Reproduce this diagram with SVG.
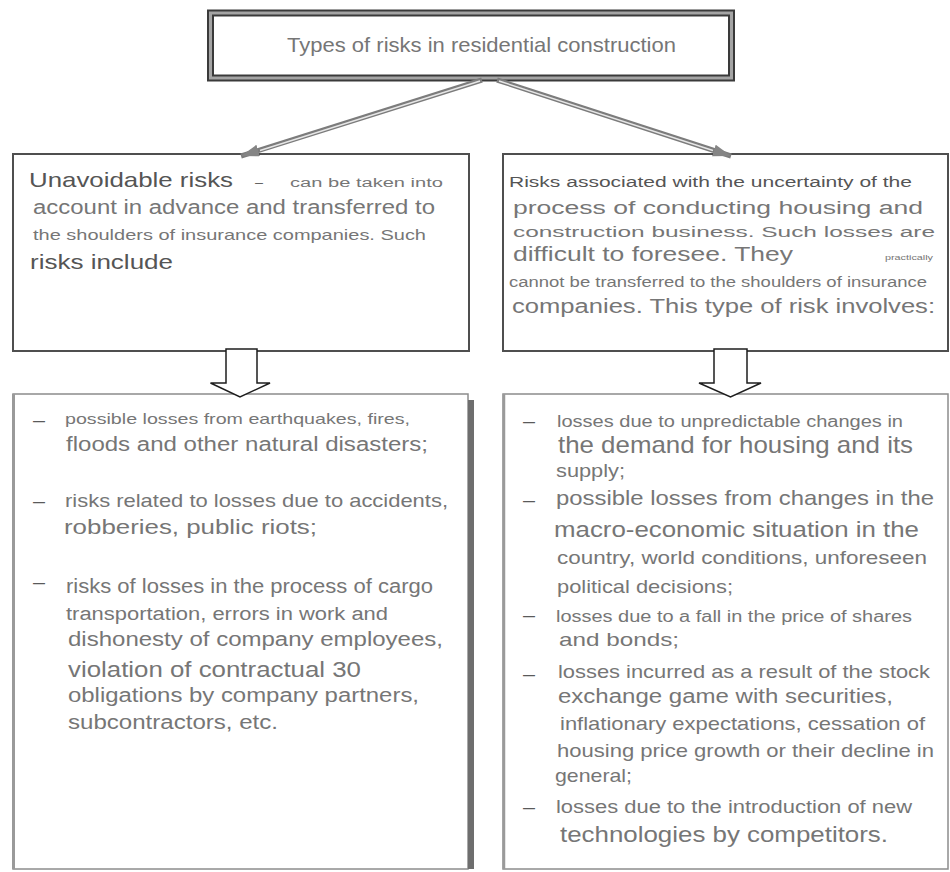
<svg xmlns="http://www.w3.org/2000/svg" width="950" height="872" viewBox="0 0 950 872">
  <style>
    text { font-family: "Liberation Sans", Arial, sans-serif; fill: #767676; }
    .dk { fill: #555555; }
    .dash { fill: #5a5a5a; }
    .box { fill: #ffffff; stroke: #4f4f4f; stroke-width: 2; }
    .lbox { fill: #ffffff; stroke: #8c8c8c; stroke-width: 1.5; }
    .link-outer { fill: none; stroke: #7c7c7c; stroke-width: 5; }
    .link-inner { fill: none; stroke: #e6e6e6; stroke-width: 1.5; }
    .block { fill: #ffffff; stroke: #1e1e1e; stroke-width: 1.5; stroke-linejoin: miter; }
  </style>
  <defs>
    <marker id="head" markerUnits="userSpaceOnUse" markerWidth="20" markerHeight="14" refX="18" refY="6" orient="auto">
      <path d="M0,0 L18,6 L0,12 Z" fill="#858585"/>
    </marker>
  </defs>

  <rect width="950" height="872" fill="#ffffff"/>

  <!-- title node with double frame -->
  <g id="title">
    <rect x="210.5" y="13" width="521" height="65" fill="#ffffff" stroke="#3a3a3a" stroke-width="7"/>
    <rect x="210.5" y="13" width="521" height="65" fill="none" stroke="#a4a4a4" stroke-width="3"/>
    <text x="287" y="52" font-size="21" textLength="389" lengthAdjust="spacingAndGlyphs">Types of risks in residential construction</text>
  </g>

  <!-- left category -->
  <g id="unavoidable">
    <rect class="box" x="13" y="154" width="456" height="197"/>
    <text class="dk" x="29" y="187" font-size="21" textLength="204" lengthAdjust="spacingAndGlyphs">Unavoidable risks</text>
    <text class="dash" x="255" y="187" font-size="12" textLength="8" lengthAdjust="spacingAndGlyphs">–</text>
    <text x="290" y="187" font-size="12" textLength="153" lengthAdjust="spacingAndGlyphs">can be taken into</text>
    <text x="33" y="214" font-size="19.5" textLength="402" lengthAdjust="spacingAndGlyphs">account in advance and transferred to</text>
    <text x="33" y="240" font-size="15" textLength="393" lengthAdjust="spacingAndGlyphs">the shoulders of insurance companies. Such</text>
    <text class="dk" x="30" y="269" font-size="20" textLength="143" lengthAdjust="spacingAndGlyphs">risks include</text>
  </g>

  <!-- right category -->
  <g id="uncertainty">
    <rect class="box" x="503" y="154" width="445" height="197"/>
    <text class="dk" x="509" y="187" font-size="14" textLength="403" lengthAdjust="spacingAndGlyphs">Risks associated with the uncertainty of the</text>
    <text x="513" y="214" font-size="18" textLength="410" lengthAdjust="spacingAndGlyphs">process of conducting housing and</text>
    <text x="513" y="237" font-size="15.5" textLength="422" lengthAdjust="spacingAndGlyphs">construction business. Such losses are</text>
    <text x="513" y="261" font-size="20.5" textLength="280" lengthAdjust="spacingAndGlyphs">difficult to foresee. They</text>
    <text x="885" y="260" font-size="8" textLength="48" lengthAdjust="spacingAndGlyphs">practically</text>
    <text x="509" y="287" font-size="14" textLength="418" lengthAdjust="spacingAndGlyphs">cannot be transferred to the shoulders of insurance</text>
    <text x="512" y="313" font-size="19.5" textLength="423" lengthAdjust="spacingAndGlyphs">companies. This type of risk involves:</text>
  </g>

  <!-- list of unavoidable risks -->
  <g id="unavoidable-list">
    <rect class="lbox" x="13" y="394" width="455" height="475"/>
    <line x1="13.5" y1="394" x2="13.5" y2="869" stroke="#9a9a9a" stroke-width="3"/>
    <rect x="468" y="400" width="6" height="469" fill="#6e6e6e"/>
    <text class="dash" x="33" y="426" font-size="16" textLength="12" lengthAdjust="spacingAndGlyphs">–</text>
    <text x="65" y="424" font-size="15" textLength="345" lengthAdjust="spacingAndGlyphs">possible losses from earthquakes, fires,</text>
    <text x="66" y="451" font-size="20" textLength="362" lengthAdjust="spacingAndGlyphs">floods and other natural disasters;</text>
    <text class="dash" x="33" y="507" font-size="16" textLength="12" lengthAdjust="spacingAndGlyphs">–</text>
    <text x="65" y="507" font-size="18.5" textLength="383" lengthAdjust="spacingAndGlyphs">risks related to losses due to accidents,</text>
    <text x="64" y="534" font-size="20.5" textLength="253" lengthAdjust="spacingAndGlyphs">robberies, public riots;</text>
    <text class="dash" x="33" y="588" font-size="16" textLength="12" lengthAdjust="spacingAndGlyphs">–</text>
    <text x="66" y="593" font-size="19.5" textLength="367" lengthAdjust="spacingAndGlyphs">risks of losses in the process of cargo</text>
    <text x="66" y="620" font-size="18" textLength="322" lengthAdjust="spacingAndGlyphs">transportation, errors in work and</text>
    <text x="68" y="646" font-size="20" textLength="375" lengthAdjust="spacingAndGlyphs">dishonesty of company employees,</text>
    <text x="68" y="677" font-size="22" textLength="293" lengthAdjust="spacingAndGlyphs">violation of contractual 30</text>
    <text x="68" y="702" font-size="19.5" textLength="351" lengthAdjust="spacingAndGlyphs">obligations by company partners,</text>
    <text x="68" y="729" font-size="20" textLength="210" lengthAdjust="spacingAndGlyphs">subcontractors, etc.</text>
  </g>

  <!-- list of uncertainty risks -->
  <g id="uncertainty-list">
    <rect class="lbox" x="503" y="394" width="445" height="475"/>
    <line x1="504" y1="394" x2="504" y2="869" stroke="#9a9a9a" stroke-width="2.5"/>
    <text class="dash" x="523" y="427" font-size="16" textLength="12" lengthAdjust="spacingAndGlyphs">–</text>
    <text x="557" y="427" font-size="16" textLength="346" lengthAdjust="spacingAndGlyphs">losses due to unpredictable changes in</text>
    <text x="558" y="453" font-size="24" textLength="355" lengthAdjust="spacingAndGlyphs">the demand for housing and its</text>
    <text x="556" y="477" font-size="18.5" textLength="69" lengthAdjust="spacingAndGlyphs">supply;</text>
    <text class="dash" x="523" y="506" font-size="16" textLength="12" lengthAdjust="spacingAndGlyphs">–</text>
    <text x="556" y="505" font-size="21" textLength="378" lengthAdjust="spacingAndGlyphs">possible losses from changes in the</text>
    <text x="554" y="537" font-size="22.5" textLength="365" lengthAdjust="spacingAndGlyphs">macro-economic situation in the</text>
    <text x="557" y="564" font-size="17.7" textLength="370" lengthAdjust="spacingAndGlyphs">country, world conditions, unforeseen</text>
    <text x="557" y="593" font-size="18.6" textLength="176" lengthAdjust="spacingAndGlyphs">political decisions;</text>
    <text class="dash" x="523" y="621" font-size="16" textLength="12" lengthAdjust="spacingAndGlyphs">–</text>
    <text x="556" y="622" font-size="16" textLength="356" lengthAdjust="spacingAndGlyphs">losses due to a fall in the price of shares</text>
    <text x="559" y="646" font-size="18.6" textLength="120" lengthAdjust="spacingAndGlyphs">and bonds;</text>
    <text class="dash" x="523" y="680" font-size="16" textLength="12" lengthAdjust="spacingAndGlyphs">–</text>
    <text x="558" y="678" font-size="18.6" textLength="372" lengthAdjust="spacingAndGlyphs">losses incurred as a result of the stock</text>
    <text x="558" y="703" font-size="19.5" textLength="335" lengthAdjust="spacingAndGlyphs">exchange game with securities,</text>
    <text x="560" y="730" font-size="17.7" textLength="365" lengthAdjust="spacingAndGlyphs">inflationary expectations, cessation of</text>
    <text x="557" y="757" font-size="18.6" textLength="377" lengthAdjust="spacingAndGlyphs">housing price growth or their decline in</text>
    <text x="555" y="782" font-size="18.6" textLength="77" lengthAdjust="spacingAndGlyphs">general;</text>
    <text class="dash" x="523" y="813" font-size="16" textLength="12" lengthAdjust="spacingAndGlyphs">–</text>
    <text x="556" y="813" font-size="18" textLength="356" lengthAdjust="spacingAndGlyphs">losses due to the introduction of new</text>
    <text x="560" y="842" font-size="22" textLength="328" lengthAdjust="spacingAndGlyphs">technologies by competitors.</text>
  </g>

  <!-- connectors -->
  <g id="connectors">
    <!-- double-line arrows from the title -->
    <line class="link-outer" x1="482" y1="80" x2="241" y2="156" marker-end="url(#head)"/>
    <line class="link-inner" x1="480" y1="81" x2="260" y2="150.5"/>
    <line class="link-outer" x1="497" y1="80" x2="731" y2="156" marker-end="url(#head)"/>
    <line class="link-inner" x1="499" y1="81" x2="713" y2="150.5"/>
    <!-- block arrows down to the lists -->
    <path class="block" d="M226,349 L257,349 L257,383 L270,383 L240,397 L210.5,383 L226,383 Z"/>
    <path class="block" d="M714,349 L747,349 L747,383 L761,383 L730.5,397 L699,383 L714,383 Z"/>
  </g>
</svg>
